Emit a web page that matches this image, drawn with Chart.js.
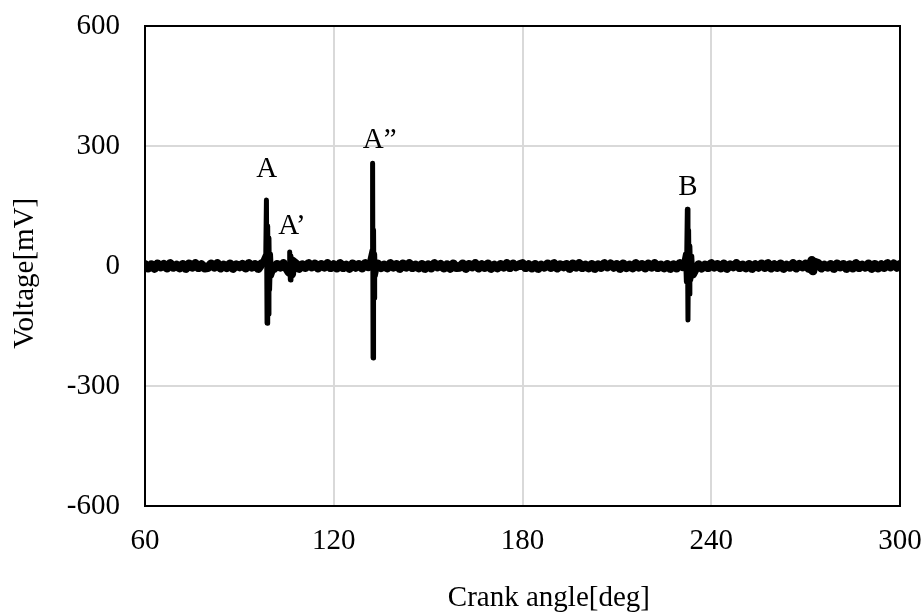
<!DOCTYPE html>
<html>
<head>
<meta charset="utf-8">
<script src="https://cdn.jsdelivr.net/npm/chart.js@4.4.1/dist/chart.umd.min.js"></script>
<style>
html,body{margin:0;padding:0;background:#fff;}
#wrap{width:924px;height:616px;}
</style>
</head>
<body>
<div id="wrap"><canvas id="c" width="924" height="616"></canvas></div>
<script>
// ---- data ----
const xTicks = [60, 120, 180, 240, 300];
const yTicks = [-600, -300, 0, 300, 600];
const baselineStart = 60;   // deg, sampled every 1 deg
const baselineStep = 1;
const baselineVolt = [
  4,-5,3,-6,5,-2,4,-5,6,-3,2,-5,4,-6,5,-3,6,-4,3,-5,
  -4,5,-3,6,-5,2,-4,5,-6,3,-2,4,-5,6,-3,4,-6,5,-4,3,
  5,-6,4,-3,6,-5,2,-4,5,-6,3,-4,6,-2,5,-5,4,-3,6,-4,
  3,-5,6,-4,2,-6,5,-3,4,-5,6,-2,3,-6,5,-4,2,-5,6,-3,
  4,-6,5,-3,6,-4,2,-5,4,-6,3,-5,6,-2,4,-5,3,-6,5,-4,
  -3,5,-6,4,-2,6,-5,3,-4,5,-6,2,-5,4,-3,6,-4,5,-2,3,
  6,-4,3,-5,4,-6,2,-3,5,-4,6,-5,3,-2,4,-6,5,-3,6,-4,
  2,-5,4,-6,3,-4,6,-2,5,-3,4,-6,5,-4,2,-5,6,-3,4,-5,
  5,-3,6,-4,2,-5,4,-6,3,-5,6,-2,4,-4,5,-6,3,-5,2,-4,
  6,-3,4,-5,5,-6,3,-2,6,-4,2,-5,4,-6,3,-3,5,-4,6,-5,
  3,-4,5,-6,2,-3,6,-5,4,-2,5,-6,3,-4,6,-5,2,-3,4,-6,
  5,-2,4,-6,3,-5,6,-4,2,-3,5,-6,4,-5,3,-4,6,-2,5,-3,
  4
];
const spikeAngle = [
  98.4, 98.6, 98.8, 99.0, 99.2, 99.4, 99.6, 99.9, 100.2,
  105.8, 106.0, 106.2, 106.4, 106.6, 106.9,
  132.2, 132.35, 132.5, 132.65, 132.8, 133.0, 133.2,
  231.8, 232.1, 232.4, 232.6, 232.8, 233.0, 233.2, 233.5, 233.8, 234.1,
  272.0, 272.3, 272.6
];
const spikeVolt = [
  30, 165, -143, 100, -120, 70, -60, 30, -25,
  -15, 35, -35, 25, -20, 12,
  40, 257, -230, 90, -80, 30, -25,
  30, -40, 142, -135, 90, -70, 50, -35, 25, -20,
  14, -12, 10
];
const labelText = ['A', 'A\u2019', 'A\u201D', 'B'];
const labelAngle = [98.7, 106.7, 134.6, 232.6];
const labelVolt = [242, 100, 315, 197];
const xTitle = 'Crank angle[deg]';
const yTitle = 'Voltage[mV]';

// ---- build points ----
const pts = [];
baselineVolt.forEach((v, i) => {
  const a = baselineStart + i * baselineStep;
  const inSpike = spikeAngle.some(s => Math.abs(s - a) < 0.5);
  if (!inSpike) pts.push({x: a, y: v});
});
spikeAngle.forEach((a, i) => pts.push({x: a, y: spikeVolt[i]}));
pts.sort((p, q) => p.x - q.x);

const FONT = "'Liberation Serif', 'Times New Roman', serif";
const FS = 29;

const decor = {
  id: 'decor',
  afterDatasetsDraw(chart) {
    const {ctx, chartArea: ca, scales} = chart;
    ctx.save();
    ctx.fillStyle = '#000';
    ctx.font = FS + 'px ' + FONT;
    ctx.textAlign = 'center';
    ctx.textBaseline = 'middle';
    labelText.forEach((t, i) => {
      ctx.fillText(t, scales.x.getPixelForValue(labelAngle[i]), scales.y.getPixelForValue(labelVolt[i]));
    });
    ctx.strokeStyle = '#000';
    ctx.lineWidth = 2;
    ctx.strokeRect(ca.left, ca.top, ca.right - ca.left, ca.bottom - ca.top);
    ctx.fillText(xTitle, ca.left + (ca.right - ca.left) * 0.535, ca.bottom + 92);
    ctx.translate(25, ca.top + (ca.bottom - ca.top) * 0.515);
    ctx.rotate(-Math.PI / 2);
    ctx.fillText(yTitle, 0, 0);
    ctx.restore();
  }
};

new Chart(document.getElementById('c'), {
  type: 'scatter',
  data: {
    datasets: [{
      data: pts,
      showLine: true,
      borderColor: '#000',
      backgroundColor: '#000',
      borderWidth: 9,
      borderJoinStyle: 'round',
      borderCapStyle: 'round',
      pointRadius: 0,
      tension: 0,
      segment: {
        borderWidth: c => (Math.max(Math.abs(c.p0.parsed.y), Math.abs(c.p1.parsed.y)) > 20 ? 5 : 9)
      }
    }]
  },
  options: {
    responsive: false,
    animation: false,
    layout: {padding: {top: 26, right: 24, left: 0, bottom: 0}},
    plugins: {legend: {display: false}, tooltip: {enabled: false}},
    scales: {
      x: {
        type: 'linear',
        min: 60, max: 300,
        afterFit(s) { s.height = 110; s.paddingLeft = 0; s.paddingRight = 0; },
        afterBuildTicks(s) { s.ticks = xTicks.map(v => ({value: v})); },
        ticks: {color: '#000', font: {family: FONT, size: FS}, padding: 18, maxRotation: 0},
        grid: {color: '#d9d9d9', lineWidth: 2, drawTicks: false},
        border: {display: false}
      },
      y: {
        type: 'linear',
        min: -600, max: 600,
        afterFit(s) { s.width = 145; s.paddingTop = 0; s.paddingBottom = 0; },
        afterBuildTicks(s) { s.ticks = yTicks.map(v => ({value: v})); },
        ticks: {color: '#000', font: {family: FONT, size: FS}, padding: 25},
        grid: {color: '#d9d9d9', lineWidth: 2, drawTicks: false},
        border: {display: false}
      }
    }
  },
  plugins: [decor]
});
</script>
</body>
</html>
